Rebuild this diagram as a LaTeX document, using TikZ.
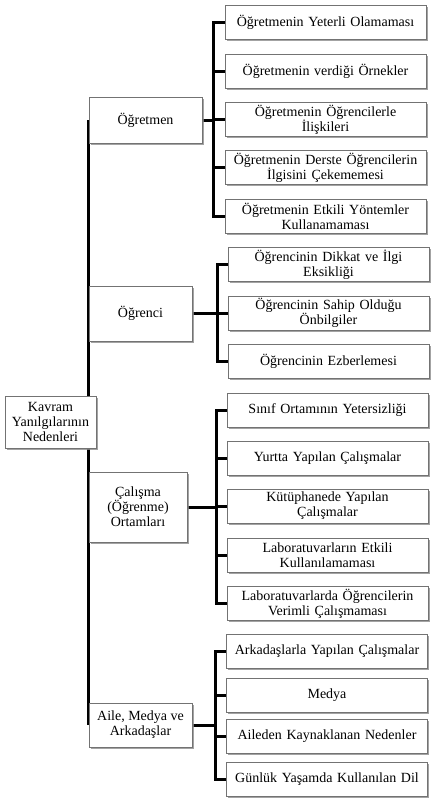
\documentclass[tikz,border=0pt]{standalone}
\usepackage{fontspec}
\setmainfont{Liberation Serif}
\usetikzlibrary{shadows}
\usetikzlibrary{backgrounds}

\begin{document}
\begin{tikzpicture}[x=1pt, y=-1pt,
        box/.style={draw=black!55, line width=0.6pt, fill=white, align=center, inner sep=1pt,
            font=\fontsize{14}{15}\selectfont,
            drop shadow={shadow xshift=1.5pt, shadow yshift=-1.5pt, fill=black!45, opacity=0.8}},
        cause/.style={box, minimum width=201pt, minimum height=34pt, text width=199pt},
        link/.style={line width=3pt, line join=miter}]
            \useasboundingbox (0, 0) rectangle (432, 806);

            \node (k) at (50.5, 422) [box, minimum width=91pt, minimum height=52pt, text width=89pt] {Kavram\\Yanılgılarının\\Nedenleri};

            \node (g) at (145.5, 120) [box, minimum width=113pt, minimum height=46pt] {Öğretmen};
            \node (s) at (140.5, 313.5) [box, minimum width=103pt, minimum height=55pt] {Öğrenci};
            \node (c) at (138, 507) [box, minimum width=98pt, minimum height=70pt] {Çalışma\\(Öğrenme)\\Ortamları};
            \node (a) at (140.5, 725) [box, minimum width=103pt, minimum height=44pt] {Aile, Medya ve\\Arkadaşlar};

            %Öğretmen
            \node (g1) at (325.5, 22) [cause] {Öğretmenin Yeterli Olamaması};
            \node (g2) at (325.5, 71) [cause] {Öğretmenin verdiği Örnekler};
            \node (g3) at (325.5, 119.5) [cause] {Öğretmenin Öğrencilerle\\İlişkileri};
            \node (g4) at (325.5, 167.5) [cause] {Öğretmenin Derste Öğrencilerin\\İlgisini Çekememesi};
            \node (g5) at (325.5, 216) [cause] {Öğretmenin Etkili Yöntemler\\Kullanamaması};

            %Öğrenci
            \node (s1) at (328.5, 264.5) [cause] {Öğrencinin Dikkat ve İlgi\\Eksikliği};
            \node (s2) at (328.5, 313) [cause] {Öğrencinin Sahip Olduğu\\Önbilgiler};
            \node (s3) at (328.5, 361) [cause] {Öğrencinin Ezberlemesi};

            %Çalışma ortamları
            \node (c1) at (327.5, 410) [cause] {Sınıf Ortamının Yetersizliği};
            \node (c2) at (327.5, 458) [cause] {Yurtta Yapılan Çalışmalar};
            \node (c3) at (327.5, 506) [cause] {Kütüphanede Yapılan\\Çalışmalar};
            \node (c4) at (327.5, 555) [cause] {Laboratuvarların Etkili\\Kullanılamaması};
            \node (c5) at (327.5, 603.5) [cause] {Laboratuvarlarda Öğrencilerin\\Verimli Çalışmaması};

            %Aile, medya ve arkadaşlar
            \node (a1) at (327, 651.5) [cause] {Arkadaşlarla Yapılan Çalışmalar};
            \node (a2) at (327, 695) [cause] {Medya};
            \node (a3) at (327, 736) [cause] {Aileden Kaynaklanan Nedenler};
            \node (a4) at (327, 779) [cause] {Günlük Yaşamda Kullanılan Dil};

            \coordinate (gb) at (213, 120);
            \coordinate (sb) at (217, 313.5);
            \coordinate (cb) at (216, 507);
            \coordinate (ab) at (215, 725);

            \begin{scope}[on background layer]
                %Main spine behind the root box.
                \draw[link, line width=3.5pt] (g.west) to (a.west);

                \draw[link] (g) to (gb);
                \draw[link] (gb) |- (g1);
                \draw[link] (gb) |- (g2);
                \draw[link] (gb) |- (g3);
                \draw[link] (gb) |- (g4);
                \draw[link] (gb) |- (g5);

                \draw[link] (s) to (sb);
                \draw[link] (sb) |- (s1);
                \draw[link] (sb) |- (s2);
                \draw[link] (sb) |- (s3);

                \draw[link] (c) to (cb);
                \draw[link] (cb) |- (c1);
                \draw[link] (cb) |- (c2);
                \draw[link] (cb) |- (c3);
                \draw[link] (cb) |- (c4);
                \draw[link] (cb) |- (c5);

                \draw[link] (a) to (ab);
                \draw[link] (ab) |- (a1);
                \draw[link] (ab) |- (a2);
                \draw[link] (ab) |- (a3);
                \draw[link] (ab) |- (a4);
            \end{scope}
        \end{tikzpicture}
\end{document}
